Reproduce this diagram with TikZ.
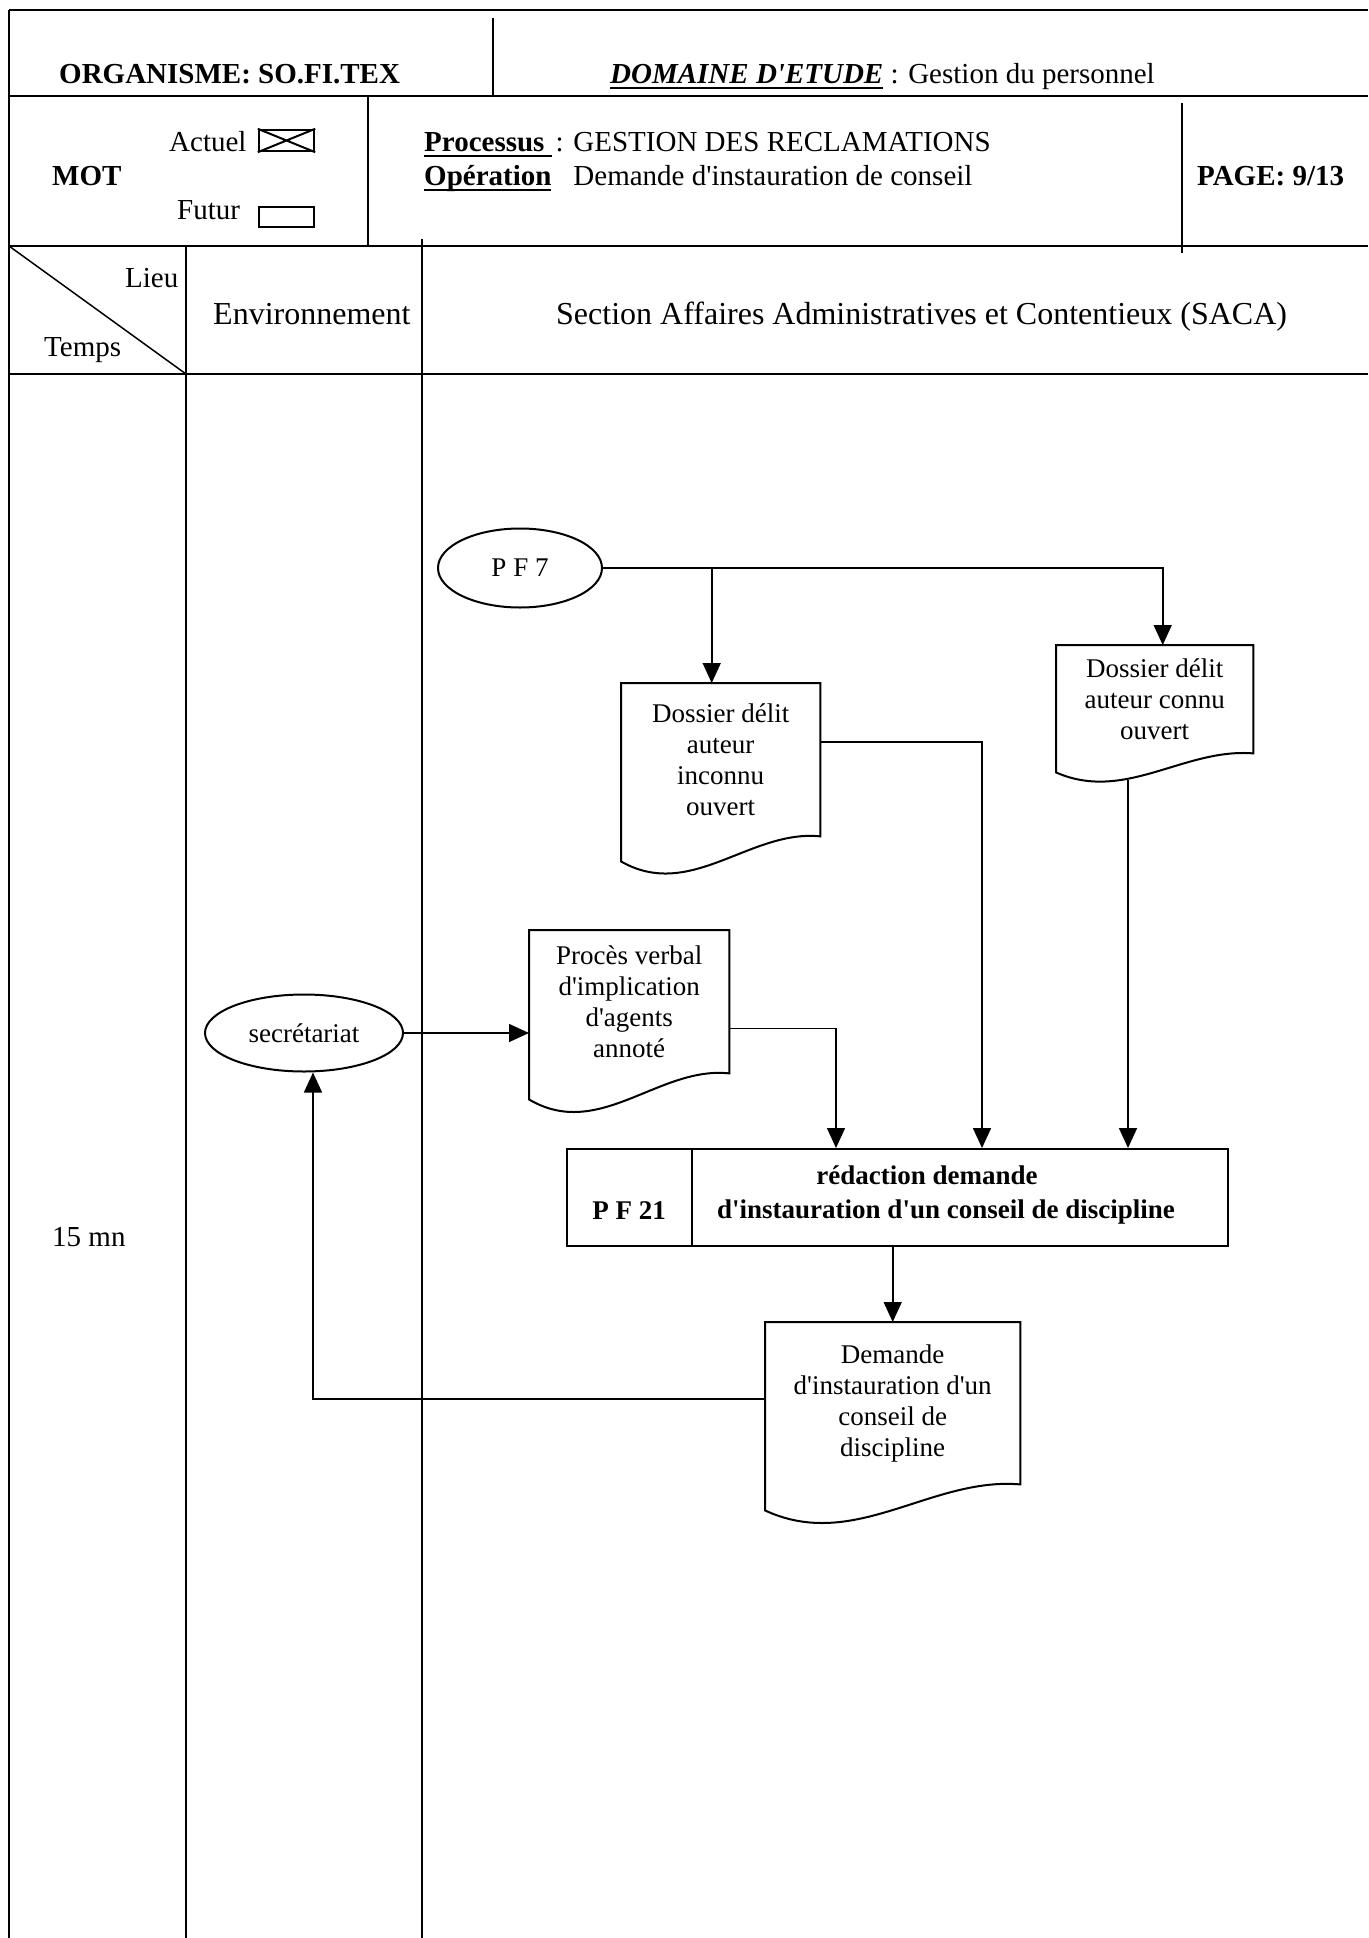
\documentclass[tikz,border=0pt]{standalone}
\usepackage{fontspec}
\setmainfont{Liberation Serif}[Ligatures=TeXOff]
\usetikzlibrary{arrows.meta,calc,shapes.geometric}

% font sizes (1 unit = 1pt)
\newcommand\fhead{\fontsize{29}{34}\selectfont}
\newcommand\flane{\fontsize{32}{38}\selectfont}
\newcommand\fshape{\fontsize{27}{31}\selectfont}
% thick underline
\newcommand\uln[1]{\setbox0\hbox{#1}\rlap{\rule[-6pt]{\wd0}{2.4pt}}\box0\relax}

% document symbol: straight top and sides, wavy bottom
% #1 node name, #2 width, #3 extra drop of the left side
\newcommand\docoutline[3]{%
  \draw[docline] (#1.south east) -- (#1.north east) -- (#1.north west)
    -- ($(#1.south west)+(0,#3)$)
    .. controls ($(#1.south west)+(0.35*#2,2.6*#3)$) and ($(#1.south west)+(0.65*#2,-0.3*#3)$)
    .. (#1.south east) -- cycle;}

\tikzset{
  gridline/.style={line width=2pt},
  lane/.style={line width=1.5pt},
  docline/.style={line width=2pt, line join=miter},
  conn/.style={line width=1.6pt, -{Triangle[length=20pt,width=18pt]}},
  doctext/.style={rectangle, inner sep=0pt, align=center, font=\fshape, anchor=north west},
  bubble/.style={ellipse, draw, line width=2pt, inner sep=0pt, font=\fshape},
  lbl/.style={inner sep=0pt, anchor=base west},
  tick/.style={draw, line width=2.4pt, inner sep=0pt, minimum width=55pt, minimum height=21pt},
}

\begin{document}
\begin{tikzpicture}[x=1pt, y=-1pt]
\fill[white] (0,0) rectangle (1368,1938);
\useasboundingbox (0,0) rectangle (1368,1938);

% ---- form grid ----
\draw[gridline] (9,10) -- (1368,10);
\draw[gridline] (9,96) -- (1368,96);
\draw[gridline] (9,246) -- (1368,246);
\draw[gridline] (9,374) -- (1368,374);
\draw[gridline] (9,10) -- (9,1938);
\draw[lane] (493,18) -- (493,96);
\draw[lane] (368,96) -- (368,246);
\draw[lane] (1182,103) -- (1182,253);
\draw[lane] (186,246) -- (186,1938);
\draw[lane] (422,239) -- (422,1938);
\draw[lane] (9,246) -- (186,374);

% ---- header texts ----
\node[lbl] (org) at (59,83) {\fhead\bfseries ORGANISME: SO.FI.TEX};
\node[lbl] (dom) at (610,83) {\fhead\uln{\bfseries\itshape DOMAINE D'ETUDE} : Gestion du personnel};

\node[lbl] (mot) at (52,185) {\fhead\bfseries MOT};
\node[lbl] (act) at (169,151) {\fhead Actuel};
\node[tick] (actbox) at (286.5,140.5) {};
\draw[line width=2pt] (actbox.north west) -- (actbox.south east)
                      (actbox.south west) -- (actbox.north east);
\node[lbl] (fut) at (177,219) {\fhead Futur};
\node[tick, line width=2pt, minimum height=20pt] (futbox) at (286.5,217) {};

\node[lbl] (proc) at (424,151) {\fhead\uln{\bfseries Processus }\kern4pt: GESTION DES RECLAMATIONS};
\node[lbl] (oper) at (424,185) {\fhead\uln{\bfseries Opération}\kern22pt Demande d'instauration de conseil};
\node[lbl] (page) at (1197,185) {\fhead\bfseries PAGE: 9/13};

\node[lbl] (lieu) at (125,287) {\fhead Lieu};
\node[lbl] (temps) at (44,356) {\fhead Temps};
\node[lbl] (env) at (213,324) {\flane Environnement};
\node[lbl] (saca) at (556,324) {\flane Section Affaires Administratives et Contentieux (SACA)};

\node[lbl] (duree) at (52,1246) {\fhead 15 mn};

% ---- flow symbols ----
\node[bubble, minimum width=164pt, minimum height=79pt] (pf7) at (520,568) {P F 7};
\node[bubble, minimum width=198pt, minimum height=77pt] (sec) at (304,1033) {secrétariat};

\node[doctext, minimum width=199pt, minimum height=153pt] (d1) at (621,683)
  {Dossier délit\\auteur\\inconnu\\ouvert};
\docoutline{d1}{199}{25}
\node[doctext, minimum width=197pt, minimum height=108pt] (d2) at (1056,645)
  {Dossier délit\\auteur connu\\ouvert};
\docoutline{d2}{197}{19}
\node[doctext, minimum width=200pt, minimum height=143pt] (d3) at (529,930)
  {Procès verbal\\d'implication\\d'agents\\annoté};
\docoutline{d3}{200}{26}
\node[doctext, minimum width=255pt, minimum height=162pt] (d4) at (765,1322)
  {Demande\\d'instauration d'un\\conseil de\\discipline};
\docoutline{d4}{255}{26}

% processing step PF 21
\node[draw, line width=2pt, rectangle, inner sep=0pt, minimum width=661pt, minimum height=97pt, anchor=north west] (pf) at (566,1148) {};
\draw[line width=1.6pt] ($(pf.north west)+(126,0)$) -- ($(pf.south west)+(126,0)$);
\node[inner sep=0pt, anchor=base, font=\fshape\bfseries] (pfid) at (629,1219) {P F 21};
\node[inner sep=0pt, anchor=base, font=\fshape\bfseries] (pfa) at (927,1184) {rédaction demande};
\node[inner sep=0pt, anchor=base, font=\fshape\bfseries] (pfb) at (946,1218) {d'instauration d'un conseil de discipline};

% ---- connectors ----
\coordinate (c1) at ($(d1.north)+(-9,0)$);
\draw[conn] (pf7.east) -| ($(d2.north)+(8,0)$);
\draw[conn] (pf7.east -| c1) -- (c1);
\draw[conn] (d1.10) -| ($(pf.north west)+(416,0)$);
\draw[conn] ($(d2.south west)+(72,27)$) -- ($(pf.north west)+(562,0)$);
\draw[conn] (sec.east) -- (sec.east -| d3.west);
\draw[conn] (d3.-15) -| ($(pf.north west)+(270,0)$);
\draw[conn] (pf.south -| d4.north) -- (d4.north);
\draw[conn] (d4.178) -| ($(sec.south)+(9,0)$);
\end{tikzpicture}
\end{document}
